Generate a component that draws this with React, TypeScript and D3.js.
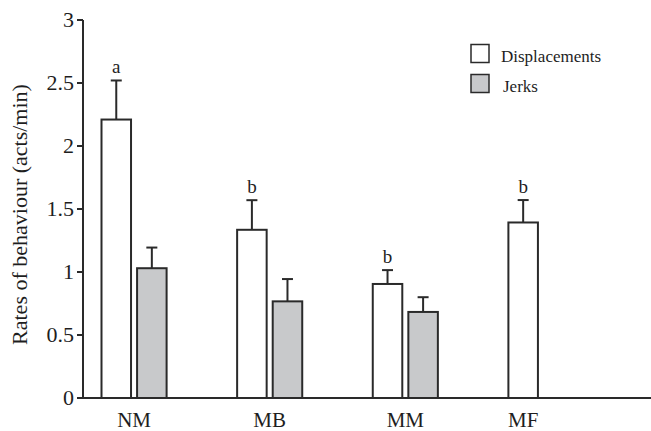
import React from "react";
import * as d3 from "d3";

const categories = ["NM", "MB", "MM", "MF"];
const seriesNames = ["Displacements", "Jerks"];
const displacements = [2.21, 1.335, 0.905, 1.393];
const displacementsErr = [0.31, 0.235, 0.11, 0.178];
const jerks: (number | null)[] = [1.03, 0.767, 0.683, null];
const jerksErr: (number | null)[] = [0.164, 0.177, 0.117, null];
const letters = ["a", "b", "b", "b"];
const yTicks = [0, 0.5, 1, 1.5, 2, 2.5, 3];
const yLabel = "Rates of behaviour (acts/min)";

const W = 651;
const H = 431;
const FONT = "'Liberation Serif', 'Times New Roman', Times, serif";
const STROKE = "#2a2a2a";
const GREY = "#c8c9cb";

export default function App() {
  const y = d3.scaleLinear().domain([0, 3]).range([398, 20]);
  const x = d3.scaleBand<string>().domain(categories).range([101.5, 573.5]).paddingInner(0.52).paddingOuter(0);
  const xi = d3.scaleBand<string>().domain(seriesNames).range([0, x.bandwidth()]).paddingInner(0.17).paddingOuter(0);
  const axisX = 83;
  const fills = ["#ffffff", GREY];
  const vals = [displacements, jerks];
  const errs = [displacementsErr, jerksErr];
  const capHalf = 5.5;
  const txt = { fontFamily: FONT, fill: "#1e1e1e" } as React.CSSProperties;

  return (
    <svg width={W} height={H} style={{ position: "absolute", left: 0, top: 0, background: "#fff" }}>
      <rect x={0} y={0} width={W} height={H} fill="#fff" />
      {categories.map((c, ci) => (
        <g key={c}>
          {seriesNames.map((s, si) => {
            const v = vals[si][ci];
            if (v == null) return null;
            const e = errs[si][ci] as number;
            const bx = (x(c) as number) + (xi(s) as number);
            const bw = xi.bandwidth();
            const cx = bx + bw / 2;
            return (
              <g key={s}>
                <line x1={cx} x2={cx} y1={y(v)} y2={y(v + e)} stroke={STROKE} strokeWidth={2} />
                <line x1={cx - capHalf} x2={cx + capHalf} y1={y(v + e)} y2={y(v + e)} stroke={STROKE} strokeWidth={2} />
                <rect x={bx} y={y(v)} width={bw} height={y(0) - y(v)} fill={fills[si]} stroke={STROKE} strokeWidth={2} />
                {si === 0 && (
                  <text x={cx} y={y(v + e) - 7.5} textAnchor="middle" style={{ ...txt, fontSize: 19 }}>
                    {letters[ci]}
                  </text>
                )}
              </g>
            );
          })}
        </g>
      ))}
      <line x1={77} x2={W} y1={y(0)} y2={y(0)} stroke={STROKE} strokeWidth={2} />
      <line x1={axisX} x2={axisX} y1={y(3)} y2={y(0)} stroke={STROKE} strokeWidth={2} />
      {yTicks.map((t) => (
        <g key={t}>
          <line x1={axisX - 6} x2={axisX} y1={y(t)} y2={y(t)} stroke={STROKE} strokeWidth={2} />
          <text x={axisX - 9} y={y(t)} dy="0.34em" textAnchor="end" style={{ ...txt, fontSize: 22 }}>
            {String(t)}
          </text>
        </g>
      ))}
      {categories.map((c, ci) => {
        const centers = seriesNames
          .map((s, si) => (vals[si][ci] == null ? null : (x(c) as number) + (xi(s) as number) + xi.bandwidth() / 2))
          .filter((d) => d != null) as number[];
        const cx = d3.mean(centers) as number;
        return (
          <text key={c} x={cx} y={427} textAnchor="middle" style={{ ...txt, fontSize: 21 }}>
            {c}
          </text>
        );
      })}
      <text transform={`translate(27,214.5) rotate(-90)`} textAnchor="middle" style={{ ...txt, fontSize: 22 }}>
        {yLabel}
      </text>
      {seriesNames.map((s, si) => (
        <g key={s}>
          <rect x={471} y={44.5 + si * 30} width={18} height={18} fill={fills[si]} stroke={STROKE} strokeWidth={1.5} />
          <text x={si === 0 ? 501 : 503} y={62 + si * 29.5} style={{ ...txt, fontSize: 17 }}>
            {s}
          </text>
        </g>
      ))}
    </svg>
  );
}
